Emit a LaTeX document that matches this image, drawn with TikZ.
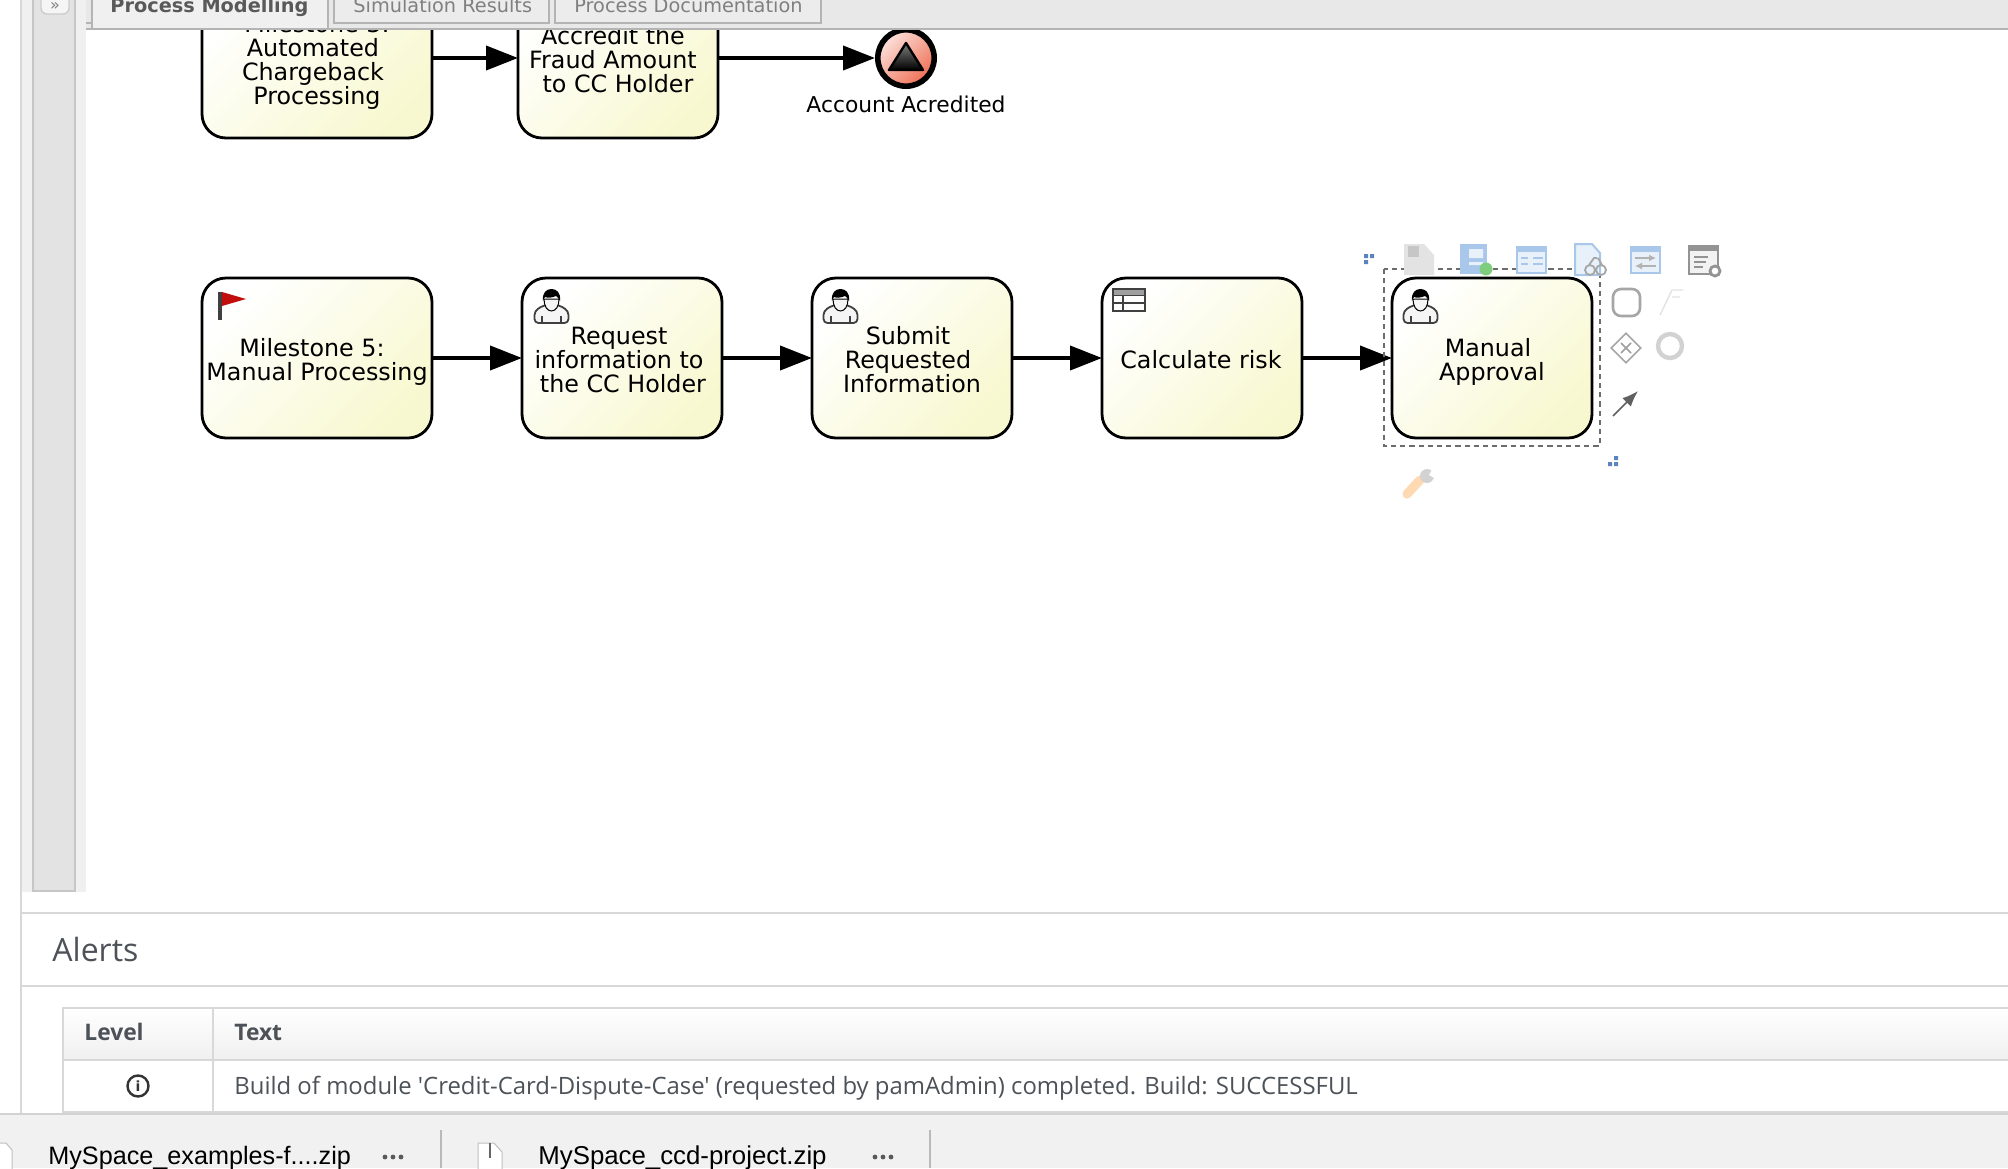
\documentclass[tikz,border=0pt]{standalone}
\usepackage{fontspec}
\setmainfont{DejaVu Sans}
\newfontfamily\osans{Open Sans}
\newfontfamily\lsans{Liberation Sans}
\usetikzlibrary{arrows.meta,shapes.geometric}
\definecolor{bordergray}{HTML}{D8D8D8}
\definecolor{tabline}{HTML}{B4B4B4}
\definecolor{paneltext}{HTML}{4D5258}
\definecolor{taskend}{HTML}{F8F8D0}
\definecolor{iconblue}{HTML}{A9C7EA}
\definecolor{iconpale}{HTML}{E8F0FA}
\definecolor{handleblue}{HTML}{5B84BE}
\definecolor{salmon}{HTML}{EF6F55}
\tikzset{
  px/.style={x=0.5pt,y=-0.5pt},
  task/.style={draw=black,line width=1.4pt,rounded corners=12pt,shading=axis,left color=white,right color=taskend,shading angle=45,minimum height=80pt,inner sep=0pt,outer sep=0pt},
  tasknarrow/.style={task,minimum width=100pt},
  taskwide/.style={task,minimum width=115pt},
  tasklabel/.style={font=\fontsize{11.9}{12}\selectfont,align=center,inner sep=0pt},
  flow/.style={line width=2pt,-{Triangle[length=16pt,width=12pt]}},
  tabtext/.style={font=\fontsize{9.65}{11}\selectfont,text=gray,anchor=base west,inner sep=0pt},
  alerttext/.style={font=\osans\fontsize{11.95}{13}\selectfont,text=paneltext,anchor=base west,inner sep=0pt},
  alerthead/.style={alerttext,font=\osans\bfseries\fontsize{11.4}{13}\selectfont},
  dltext/.style={font=\lsans\fontsize{12.6}{13}\selectfont,text=black,anchor=base west,inner sep=0pt},
  tablerule/.style={draw=bordergray,line width=1pt},
}
\newcommand{\usericon}[2]{%
  \begin{scope}[shift={(#1,#2)}]
    \filldraw[fill=gray!8,draw=black!75,line width=0.9pt,rounded corners=2pt] (0.5,34) -- (0.5,22) -- (10,16) -- (25,16) -- (34.5,22) -- (34.5,34) -- cycle;
    \draw[black!75,line width=0.6pt] (8,27) -- (8,34) (27,27) -- (27,34);
    \filldraw[fill=gray!8,draw=black,line width=0.5pt] (10,10) .. controls (10,17) and (13,22) .. (17.5,22) .. controls (22,22) and (25,17) .. (25,10) -- cycle;
    \fill[black] (9,12) .. controls (8,3) and (13,0) .. (17.5,0) .. controls (22,0) and (27,3) .. (26,12) .. controls (25,9) and (23,8) .. (22,7) .. controls (18,9) and (13,9) .. (11,8) .. controls (10,9) and (10,10) .. (9,12) -- cycle;
  \end{scope}}
\begin{document}
\begin{tikzpicture}[px]
\useasboundingbox (0,0) rectangle (2008,1168);
\fill[white] (0,0) rectangle (2008,1168);
% left gutter
\fill[gray!12] (21,0) rectangle (86,892);
\filldraw[fill=gray!22,draw=gray!45,line width=0.8pt] (33,-2) rectangle (75,891);
\draw[bordergray,line width=1pt] (21,0) -- (21,1114);
% diagram, cut by the tab strip
\begin{scope}
\clip (86,29) rectangle (2008,900);
\node[taskwide] (t1) at (317,58) {};
\node[tasknarrow] (t2) at (618,58) {};
\node[circle,draw=black,line width=2.8pt,shading=axis,left color=white!80!salmon,right color=salmon,shading angle=45,minimum size=28.2pt,inner sep=0pt,outer sep=1.4pt] (end) at (906,58) {};
\shade[top color=gray,bottom color=black,draw=black,line width=1.2pt,line join=round] (906,43) -- (923,70) -- (889,70) -- cycle;
\node[tasklabel] (t1text) at (313,62) {\hspace*{4pt}Milestone 3:\\Automated\\Chargeback\\\hspace*{4pt}Processing};
\node[tasklabel] (t2text) at (613,60) {Accredit the\\Fraud Amount\\\hspace*{5pt}to CC Holder};
\draw[flow] (t1.east) -- (t2.west);
\draw[flow] (t2.east) -- (end.west);
\end{scope}
\node[tasklabel,font=\fontsize{10.9}{12}\selectfont] (endtext) at (906,104) {Account Acredited};
% second row
\node[taskwide] (m5) at (317,358) {};
\node[tasknarrow] (req) at (622,358) {};
\node[tasknarrow] (sub) at (912,358) {};
\node[tasknarrow] (calc) at (1202,358) {};
\node[tasknarrow] (appr) at (1492,358) {};
\node[tasklabel] (m5text) at (317,362) {Milestone 5:\hspace*{5pt}\\Manual Processing};
\node[tasklabel] (reqtext) at (619,360) {Request\\information to\\\hspace*{4pt}the CC Holder};
\node[tasklabel] (subtext) at (908,360) {Submit\\Requested\\\hspace*{4pt}Information};
\node[tasklabel] (calctext) at (1201,360) {Calculate risk};
\node[tasklabel] (apprtext) at (1491,362) {Manual\hspace*{3pt}\\\hspace*{1pt}Approval};
\draw[flow] (m5.east) -- (req.west);
\draw[flow] (req.east) -- (sub.west);
\draw[flow] (sub.east) -- (calc.west);
\draw[flow] (calc.east) -- (appr.west);
% flag
\fill[black!75] (218,292) rectangle (222,320);
\fill[red!75!black!95!white] (222,292) -- (246,299) -- (222,306) -- cycle;
% user icons
\usericon{534}{289}
\usericon{823}{289}
\usericon{1403}{289}
% table icon
\begin{scope}[shift={(1113,289)}]
\fill[gray!75] (0,0) rectangle (32,6);
\draw[black!75,line width=0.9pt] (0,0) rectangle (32,22);
\draw[black!75,line width=0.8pt] (0,6.5) -- (32,6.5) (0,14) -- (32,14) (10,6.5) -- (10,22);
\end{scope}
% selection frame
\draw[gray!85!black,line width=0.8pt,dash pattern=on 2.6pt off 2pt] (1384,269) rectangle (1600,446);
\fill[handleblue] (1364,254) rectangle (1368,258) (1370,254) rectangle (1374,258) (1364,260) rectangle (1368,264);
\fill[handleblue] (1614,456) rectangle (1618,460) (1608,462) rectangle (1612,466) (1614,462) rectangle (1618,466);
% toolbox
\fill[gray!22] (1404,244) -- (1424,244) -- (1434,255) -- (1434,275) -- (1404,275) -- cycle;
\fill[gray!45] (1408,246) rectangle (1419,257);
\fill[iconblue] (1460,244) rectangle (1487,274);
\fill[iconpale] (1469,249) rectangle (1483,258) (1469,262) rectangle (1483,265);
\fill[green!45!gray!70!white] (1486,269) circle (6.5);
\filldraw[fill=iconpale,draw=iconblue,line width=1pt] (1517,247) rectangle (1546,273);
\fill[iconblue] (1517,247) rectangle (1546,252);
\draw[iconblue,line width=0.8pt] (1521,258) -- (1528,258) (1521,264) -- (1528,264) (1533,258) -- (1543,258) (1533,264) -- (1543,264);
\filldraw[fill=iconpale,draw=iconblue,line width=1pt] (1575,244) -- (1592,244) -- (1600,253) -- (1600,275) -- (1575,275) -- cycle;
\draw[gray!70,line width=0.9pt] (1590,270) circle (5) (1601,270) circle (5) (1589,265) -- (1594,258) -- (1597,258) (1602,265) -- (1598,258);
\filldraw[fill=iconpale,draw=iconblue,line width=1pt] (1631,247) rectangle (1660,273);
\fill[iconblue] (1631,247) rectangle (1660,252);
\draw[gray!60,line width=0.8pt,-{Latex[length=3.5pt,width=3.5pt]}] (1635,258) -- (1656,258);
\draw[gray!60,line width=0.8pt,-{Latex[length=3.5pt,width=3.5pt]}] (1656,266) -- (1635,266);
\filldraw[fill=gray!10,draw=gray!85,line width=1.3pt] (1689,246) rectangle (1718,274);
\fill[gray!85] (1689,246) rectangle (1718,251);
\draw[gray!85,line width=0.9pt] (1694,257) -- (1708,257) (1694,262) -- (1706,262) (1694,267) -- (1703,267);
\filldraw[fill=white,draw=gray!85,line width=1.4pt] (1715,271) circle (5);
\draw[gray!70,line width=1.3pt,rounded corners=4pt] (1613,289) rectangle (1640,316);
\draw[gray!22,line width=0.7pt] (1660,315) -- (1672,290) -- (1683,290) (1672,297) -- (1680,297);
\node[diamond,draw=gray!70,line width=0.8pt,minimum size=15pt,inner sep=0pt] (gwicon) at (1626,348) {};
\draw[gray!75,line width=0.8pt] (1621,343) -- (1631,353) (1631,343) -- (1621,353);
\draw[gray!35,line width=2.2pt] (1670,346) circle (12);
\draw[gray!75!black,line width=0.8pt,-{Latex[length=8pt,width=6pt]}] (1613,416) -- (1638,391);
% wrench
\draw[orange!30!white,line width=4.6pt,line cap=round] (1407,494) -- (1420,480);
\fill[gray!35] (1427,476) circle (7);
\fill[white] (1433,468) -- (1429,475) -- (1436,479) -- cycle;
% tab strip
\fill[gray!18] (86,0) rectangle (2008,28);
\draw[tabline,line width=0.7pt] (86,23) -- (91,23);
\fill[gray!12] (92,-2) rectangle (328,28);
\draw[tabline,line width=0.7pt] (92,-2) -- (92,28) (328,-2) -- (328,28);
\filldraw[fill=gray!15,draw=tabline,line width=0.8pt] (334,-2) rectangle (549,23);
\filldraw[fill=gray!15,draw=tabline,line width=0.8pt] (555,-2) rectangle (821,23);
\fill[tabline] (86,28) rectangle (2008,30);
\node[tabtext,font=\bfseries\fontsize{9.65}{11}\selectfont,text=black!65] (tab1) at (110,12) {Process Modelling};
\node[tabtext] (tab2) at (353,12) {Simulation Results};
\node[tabtext] (tab3) at (574,12) {Process Documentation};
% collapse button
\filldraw[fill=gray!8,draw=gray!40,line width=0.7pt,rounded corners=3pt] (41,-6) rectangle (69,14);
\node[font=\fontsize{8}{8}\selectfont,text=gray,inner sep=0pt] (collapse) at (55,6) {»};
% alerts
\draw[bordergray,line width=1pt] (21,913) -- (2008,913);
\draw[bordergray,line width=1pt] (21,986) -- (2008,986);
\node[alerttext,font=\osans\fontsize{16}{18}\selectfont] (alerts) at (52,961) {Alerts};
\shade[top color=white,bottom color=gray!12] (63,1008) rectangle (2008,1060);
\draw[tablerule] (2008,1008) -- (63,1008) -- (63,1112) -- (2008,1112);
\draw[tablerule] (63,1060) -- (2008,1060);
\draw[tablerule] (213,1008) -- (213,1112);
\node[alerthead] (lvl) at (84,1040) {Level};
\node[alerthead] (txt) at (234,1040) {Text};
\node[draw=black!80,circle,line width=1.2pt,minimum size=10.5pt,inner sep=0pt,font=\fontsize{7}{7}\selectfont\bfseries,text=black!80] (info) at (138,1086) {i};
\node[alerttext] (msg) at (234,1094) {Build of module 'Credit-Card-Dispute-Case' (requested by pamAdmin) completed. Build: SUCCESSFUL};
% download bar
\fill[gray!11] (0,1114) rectangle (2008,1168);
\draw[gray!35,line width=0.6pt] (0,1114) -- (2008,1114);
\draw[gray!55,line width=0.7pt] (441,1130) -- (441,1168) (930,1130) -- (930,1168);
\filldraw[fill=white,draw=gray!50,line width=0.5pt] (-4,1143) -- (6,1143) -- (12,1150) -- (12,1172) -- (-4,1172) -- cycle;
\filldraw[fill=white,draw=gray!50,line width=0.5pt] (478,1143) -- (494,1143) -- (502,1152) -- (502,1172) -- (478,1172) -- cycle;
\fill[black!60] (489,1143) rectangle (491,1158);
\node[dltext] (dl1) at (48,1164.5) {MySpace\_examples-f....zip};
\node[dltext,font=\lsans\fontsize{12.9}{13}\selectfont] (dl2) at (538,1164.5) {MySpace\_ccd-project.zip};
\foreach \dx in {385,393,401,875,883,891} \fill[gray!70!black] (\dx,1157) circle (2.4);
\end{tikzpicture}
\end{document}
